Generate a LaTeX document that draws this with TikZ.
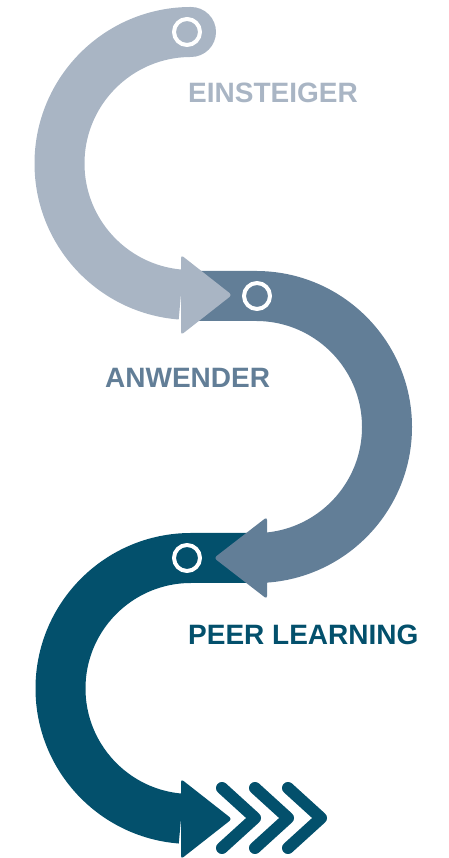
\documentclass[tikz,border=0pt]{standalone}
\usepackage{fontspec}
\setmainfont{Liberation Sans}
\definecolor{einst}{HTML}{A9B5C4}
\definecolor{anw}{HTML}{627E97}
\definecolor{peer}{HTML}{03506C}
\begin{document}
\begin{tikzpicture}[x=1pt, y=1pt, line cap=round, line join=round]
  \tikzset{band/.style={line width=50pt, line cap=butt},
    head/.style={rounded corners=3pt},
    ring/.style={circle, draw=white, line width=4pt, minimum size=26pt, inner sep=0pt},
    stage/.style={font=\fontsize{28}{30}\selectfont\bfseries, anchor=base west, inner sep=0pt}}
  \useasboundingbox (0,0) rectangle (449,858);
  % third stage
  \draw[band, peer] (250,300) -- (191,300) arc (90:265.6:130.5);
  \fill[peer, head] (181,79) -- (232,39) coordinate (tip3) -- (181,-1) -- cycle;
  \foreach \k in {0,1,2}
    \draw[peer, line width=12pt] ({222+33*\k},70) -- ({255+33*\k},40) -- ({222+33*\k},10);
  % second stage
  \draw[band, anw] (190,562) -- (256,562) arc (90:-90:131) -- (267,300);
  \fill[anw, head] (267,341) -- (214,300) coordinate (tip2) -- (267,259) -- cycle;
  % first stage
  \fill[einst] (191,826) circle (25);
  \draw[band, einst] (191,826) arc (90:265.6:131.5);
  \fill[einst, head] (181,603) -- (232,563) coordinate (tip1) -- (181,523) -- cycle;
  % rings
  \node[ring] (o1) at (187,826) {};
  \node[ring] (o2) at (257,562) {};
  \node[ring] (o3) at (187,300) {};
  % labels
  \node[stage, text=einst] (einsteiger) at (188,755) {EINSTEIGER};
  \node[stage, text=anw] (anwender) at (105,470) {ANWENDER};
  \node[stage, text=peer] (peerlearning) at (188,213) {PEER LEARNING};
\end{tikzpicture}
\end{document}
